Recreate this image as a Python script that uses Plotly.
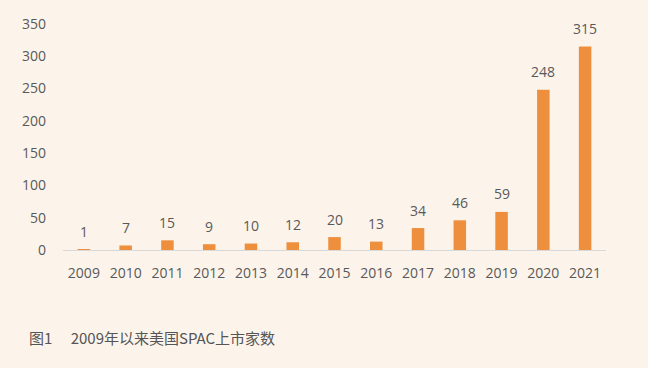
import plotly.graph_objects as go

years = ["2009", "2010", "2011", "2012", "2013", "2014", "2015", "2016", "2017", "2018", "2019", "2020", "2021"]
counts = [1, 7, 15, 9, 10, 12, 20, 13, 34, 46, 59, 248, 315]
y_ticks = [0, 50, 100, 150, 200, 250, 300, 350]
caption = "图1\u2003 2009年以来美国SPAC上市家数"

bg = "#FCF4EB"
bar_color = "#EE8F3E"
text_color = "#595959"

pos = list(range(len(years)))

fig = go.Figure()
fig.add_trace(go.Bar(x=pos, y=counts, marker_color=bar_color, marker_line_width=0, width=0.3))

for x, v in zip(pos, counts):
    fig.add_annotation(x=x, y=v, text=str(v), showarrow=False, yanchor="middle", yshift=18,
                       font=dict(family="Open Sans, Liberation Sans, sans-serif", size=14, color=text_color))

fig.add_annotation(xref="paper", yref="paper", x=-36/543, y=-87/226, xanchor="left", yanchor="middle",
                   text=caption, showarrow=False,
                   font=dict(family="Noto Sans CJK SC", size=15, color="#555555"))

fig.update_layout(
    width=648, height=368,
    margin=dict(l=63, r=42, t=24, b=118),
    paper_bgcolor=bg, plot_bgcolor=bg,
    showlegend=False,
    font=dict(family="Open Sans, Liberation Sans, sans-serif", size=14, color=text_color),
)
fig.update_xaxes(range=[-0.5, len(years) - 0.5], tickvals=pos, ticktext=years,
                 showline=True, linecolor="#D9D9D9", linewidth=1, showgrid=False, ticks="", zeroline=False,
                 ticklabelstandoff=10, tickfont=dict(size=14, color=text_color))
fig.update_yaxes(range=[0, 350], tickvals=y_ticks, showgrid=False, zeroline=False, showline=False,
                 ticks="", ticklabelstandoff=16, tickfont=dict(size=14, color=text_color))

fig.write_html("out.html", config={"displayModeBar": False},
               post_script="document.body.style.margin='0';document.body.style.background='#FCF4EB';")
